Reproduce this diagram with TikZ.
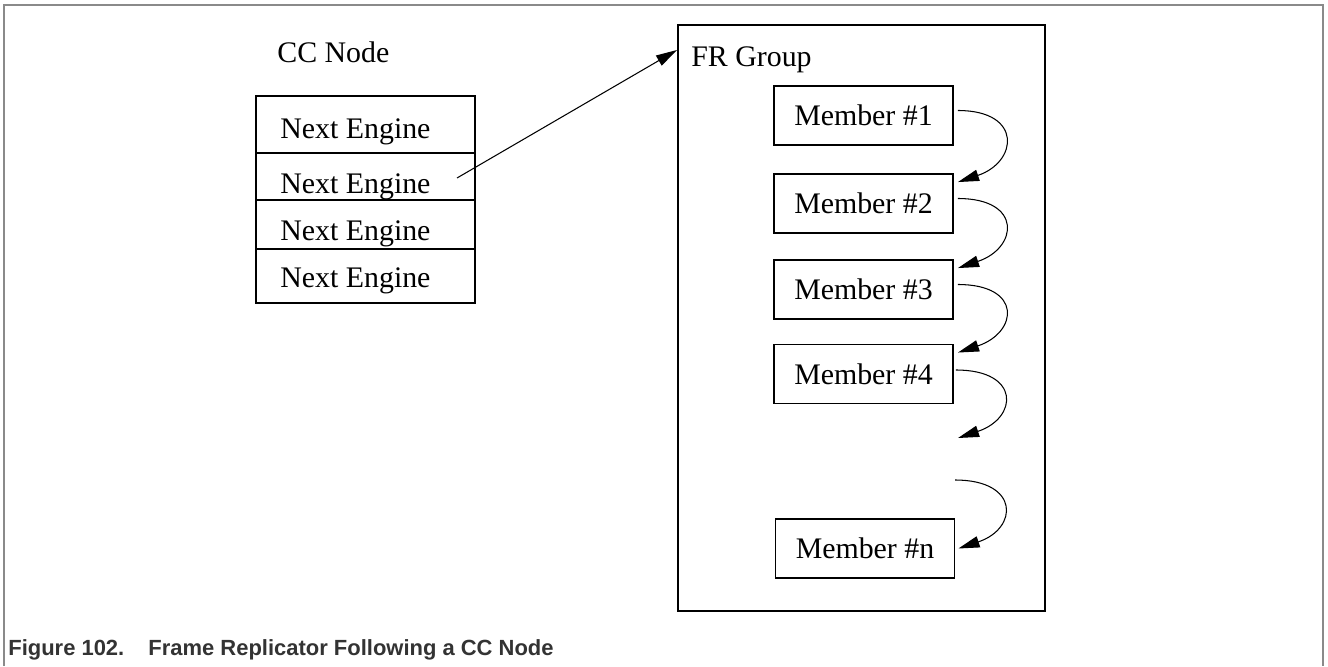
\documentclass[tikz,border=0pt]{standalone}
\usepackage{fontspec}
\setmainfont{Liberation Serif}
\newfontfamily\capfont{Liberation Sans}
\usepackage{tikz}
\usetikzlibrary{arrows.meta,calc}
\definecolor{framec}{HTML}{8A8A8A}
\definecolor{capc}{HTML}{333333}

\tikzset{
  boxline/.style={line width=1.1pt},
  rowtext/.style={anchor=base west, inner sep=0pt},
  member/.style={draw, boxline, minimum width=3.58cm, minimum height=1.18cm, inner sep=0pt},
  link/.style={line width=0.6pt, -{Triangle[length=12pt, width=6.5pt]}}
}

\begin{document}
\begin{tikzpicture}[x=0.02cm, y=-0.02cm, font=\fontsize{17}{20}\selectfont]
  \useasboundingbox (0,0) rectangle (1328,666);
  \draw[framec, line width=0.9pt] (4,666) -- (4,5) -- (1323,5) -- (1323,666);
  % CC node table
  \node[rowtext] (cclabel) at (277,62) {CC Node};
  \draw[boxline] (256,96) rectangle (475,303);
  \draw[boxline] (256,153) -- (475,153) (256,200) -- (475,200) (256,249) -- (475,249);
  \node[rowtext] (ne1) at (280,138) {Next Engine};
  \node[rowtext] (ne2) at (280,193) {Next Engine};
  \node[rowtext] (ne3) at (280,240) {Next Engine};
  \node[rowtext] (ne4) at (280,287) {Next Engine};
  % FR group
  \node[draw, boxline, minimum width=7.34cm, minimum height=11.72cm, inner sep=0pt] (frgroup) at (861.5,318) {};
  \node[rowtext] (frlabel) at (691,66) {FR Group};
  \node[member] (m1) at (863.5,115.5) {Member \#1};
  \node[member] (m2) at (863.5,203.5) {Member \#2};
  \node[member] (m3) at (863.5,289.5) {Member \#3};
  \node[member] (m4) at (863.5,374) {Member \#4};
  \node[member] (mn) at (865,548.5) {Member \#n};
  % links
  \coordinate (ne2tail) at (457,178);
  \coordinate (frin) at (677,50);
  \coordinate (gapin) at (958,438);
  \coordinate (gapout) at (955,480);
  \draw[link] (ne2tail) -- (frin);
  \draw[link] ($(m1.east)+(4,-5)$) .. controls +(65,0) and +(60,-20) .. ($(m2.north east)+(4,9)$);
  \draw[link] ($(m2.east)+(4,-5)$) .. controls +(65,0) and +(60,-20) .. ($(m3.north east)+(4,9)$);
  \draw[link] ($(m3.east)+(4,-5)$) .. controls +(65,0) and +(60,-20) .. ($(m4.north east)+(4,9)$);
  \draw[link] ($(m4.east)+(2,-4)$) .. controls +(65,0) and +(60,-20) .. (gapin);
  \draw[link] (gapout) .. controls +(65,0) and +(60,-20) .. ($(mn.east)+(3,0)$);
  % caption
  \node[anchor=base west, inner sep=0pt, text=capc, font=\capfont\bfseries\fontsize{12.5}{14}\selectfont] (caption) at (8,655)
    {Figure 102.\hspace{1.1em}Frame Replicator Following a CC Node};
\end{tikzpicture}
\end{document}
